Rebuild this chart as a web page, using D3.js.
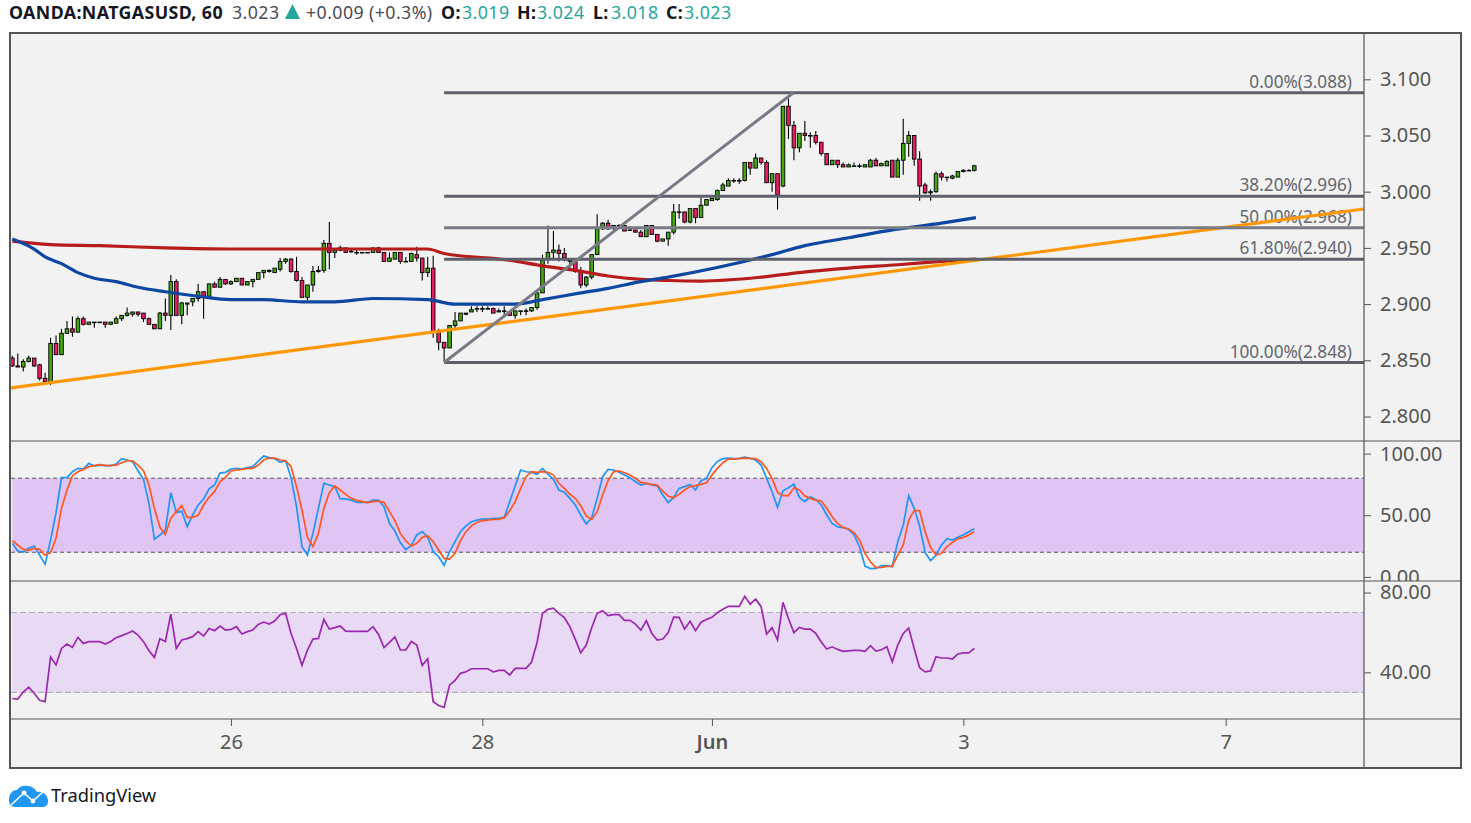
<!DOCTYPE html>
<html>
<head>
<meta charset="utf-8">
<script src="https://d3js.org/d3.v7.min.js"></script>
<style>
html, body { margin: 0; padding: 0; background: #fff; overflow: hidden; }
svg { display: block; }
text { font-family: "Noto Sans", sans-serif; }
.tick text { fill: #555; font-size: 20px; }
</style>
</head>
<body>
<script>
// one candle per hour, index 0 is the first bar on the left
var candleOpen = [
  2.852,2.845,2.844,2.849,2.852,2.846,2.834,2.831,2.865,2.855,
  2.874,2.878,2.875,2.887,2.882,2.884,2.884,2.884,2.882,2.883,
  2.887,2.890,2.891,2.893,2.892,2.887,2.882,2.878,2.892,2.890,
  2.920,2.890,2.900,2.902,2.905,2.911,2.907,2.918,2.915,2.922,
  2.918,2.920,2.923,2.917,2.920,2.922,2.928,2.929,2.928,2.931,
  2.938,2.940,2.929,2.921,2.906,2.917,2.929,2.930,2.954,2.946,
  2.948,2.950,2.947,2.946,2.946,2.946,2.946,2.950,2.946,2.938,
  2.940,2.946,2.938,2.938,2.944,2.941,2.928,2.932,2.875,2.866,
  2.861,2.881,2.885,2.892,2.893,2.896,2.896,2.896,2.896,2.894,
  2.894,2.893,2.890,2.894,2.894,2.894,2.897,2.910,2.940,2.946,
  2.948,2.945,2.939,2.938,2.929,2.917,2.924,2.944,2.967,2.972,
  2.970,2.970,2.970,2.966,2.966,2.964,2.960,2.970,2.962,2.956,
  2.958,2.964,2.982,2.982,2.973,2.985,2.977,2.988,2.992,2.993,
  3.001,3.005,3.010,3.010,3.010,3.026,3.021,3.030,3.026,3.008,
  3.016,3.005,3.076,3.059,3.039,3.052,3.050,3.050,3.044,3.034,
  3.024,3.028,3.024,3.022,3.023,3.023,3.022,3.022,3.028,3.023,
  3.023,3.028,3.013,3.028,3.043,3.050,3.029,3.006,2.999,3.000,
  3.016,3.013,3.012,3.013,3.018,3.019,3.019
];
var candleHigh = [
  2.854,2.856,2.851,2.854,2.852,2.847,2.839,2.870,2.872,2.878,
  2.885,2.889,2.889,2.889,2.884,2.884,2.884,2.884,2.884,2.889,
  2.890,2.897,2.893,2.893,2.892,2.888,2.882,2.893,2.905,2.926,
  2.922,2.902,2.901,2.905,2.918,2.911,2.918,2.920,2.924,2.922,
  2.921,2.923,2.923,2.920,2.922,2.928,2.930,2.931,2.932,2.941,
  2.941,2.941,2.942,2.924,2.917,2.934,2.934,2.957,2.973,2.948,
  2.952,2.950,2.949,2.948,2.946,2.946,2.950,2.951,2.946,2.946,
  2.946,2.946,2.942,2.946,2.951,2.941,2.942,2.943,2.878,2.866,
  2.881,2.893,2.892,2.892,2.898,2.898,2.898,2.898,2.897,2.896,
  2.898,2.893,2.894,2.894,2.896,2.897,2.910,2.944,2.970,2.965,
  2.953,2.950,2.941,2.939,2.933,2.925,2.944,2.980,2.973,2.975,
  2.970,2.971,2.970,2.969,2.966,2.966,2.970,2.970,2.962,2.958,
  2.964,2.989,2.989,2.982,2.985,2.985,2.995,2.993,2.994,3.002,
  3.008,3.012,3.012,3.012,3.026,3.026,3.034,3.030,3.028,3.016,
  3.016,3.076,3.083,3.063,3.052,3.063,3.053,3.054,3.044,3.034,
  3.028,3.028,3.026,3.025,3.026,3.025,3.024,3.029,3.030,3.026,
  3.028,3.028,3.030,3.065,3.054,3.050,3.036,3.008,3.002,3.018,
  3.018,3.013,3.015,3.018,3.020,3.020,3.024
];
var candleLow = [
  2.844,2.844,2.840,2.848,2.844,2.832,2.830,2.828,2.855,2.855,
  2.874,2.871,2.875,2.881,2.882,2.879,2.884,2.879,2.882,2.883,
  2.885,2.889,2.889,2.889,2.884,2.882,2.878,2.878,2.885,2.877,
  2.890,2.882,2.890,2.898,2.902,2.887,2.905,2.915,2.915,2.917,
  2.917,2.920,2.917,2.917,2.915,2.922,2.923,2.928,2.928,2.929,
  2.936,2.928,2.920,2.906,2.903,2.911,2.928,2.928,2.931,2.941,
  2.947,2.946,2.946,2.944,2.946,2.946,2.946,2.946,2.938,2.938,
  2.940,2.936,2.938,2.938,2.938,2.921,2.924,2.870,2.859,2.849,
  2.861,2.878,2.885,2.890,2.893,2.893,2.893,2.896,2.892,2.893,
  2.890,2.890,2.887,2.890,2.890,2.893,2.895,2.910,2.936,2.939,
  2.938,2.938,2.930,2.928,2.914,2.915,2.922,2.944,2.966,2.966,
  2.964,2.969,2.965,2.965,2.964,2.960,2.960,2.962,2.955,2.956,
  2.952,2.962,2.976,2.972,2.972,2.972,2.977,2.988,2.992,2.992,
  3.001,3.005,3.008,3.007,3.009,3.015,3.021,3.024,3.008,3.000,
  2.984,3.004,3.047,3.028,3.035,3.045,3.039,3.042,3.032,3.024,
  3.024,3.021,3.022,3.022,3.023,3.021,3.022,3.022,3.023,3.023,
  3.023,3.013,3.013,3.015,3.031,3.023,2.992,2.998,2.992,2.999,
  3.010,3.009,3.011,3.013,3.017,3.019,3.018
];
var candleClose = [
  2.845,2.844,2.849,2.852,2.845,2.834,2.831,2.865,2.855,2.874,
  2.878,2.875,2.887,2.882,2.884,2.884,2.884,2.882,2.884,2.887,
  2.890,2.892,2.893,2.891,2.887,2.882,2.878,2.892,2.890,2.920,
  2.890,2.901,2.901,2.905,2.911,2.907,2.918,2.915,2.922,2.918,
  2.920,2.923,2.917,2.920,2.922,2.928,2.930,2.930,2.932,2.938,
  2.940,2.929,2.921,2.906,2.917,2.929,2.930,2.954,2.946,2.948,
  2.950,2.946,2.947,2.946,2.946,2.946,2.950,2.946,2.938,2.941,
  2.946,2.938,2.938,2.945,2.941,2.928,2.932,2.876,2.866,2.861,
  2.881,2.885,2.892,2.891,2.895,2.896,2.896,2.896,2.892,2.893,
  2.894,2.890,2.894,2.894,2.894,2.897,2.910,2.939,2.946,2.948,
  2.945,2.941,2.938,2.929,2.917,2.924,2.944,2.967,2.972,2.967,
  2.970,2.970,2.965,2.966,2.964,2.960,2.970,2.962,2.956,2.958,
  2.964,2.982,2.982,2.973,2.985,2.977,2.988,2.993,2.994,3.001,
  3.006,3.010,3.010,3.010,3.026,3.021,3.030,3.026,3.008,3.016,
  2.997,3.076,3.059,3.039,3.052,3.050,3.050,3.044,3.034,3.024,
  3.028,3.024,3.022,3.024,3.023,3.023,3.024,3.028,3.023,3.025,
  3.027,3.013,3.028,3.043,3.050,3.029,3.005,2.999,3.000,3.016,
  3.013,3.013,3.014,3.018,3.019,3.019,3.023
];

var redIdx = [0,7,16,28,40,58,76,79,91,97,103,109,115,120,126,137,144,153,162,170,176.3];
var redVal = [2.956,2.953,2.952,2.950,2.949,2.949,2.949,2.945,2.939,2.934,2.930,2.925,2.922,2.921,2.9205,2.924,2.928,2.932,2.935,2.938,2.940];
var blueIdx = [0,4,6,9,12,15,19,23,28,34,40,46,53,59,66,76,81,92,97,104,109,115,120,139,145,153,161,170,176.3];
var blueVal = [2.958,2.949,2.942,2.936,2.928,2.923,2.920,2.915,2.911,2.907,2.904,2.904,2.902,2.902,2.905,2.904,2.900,2.900,2.904,2.910,2.914,2.920,2.924,2.944,2.952,2.959,2.966,2.972,2.977];

// drawings on the price pane
var trendIdx = [-0.4, 247.3];
var trendVal = [2.8254, 2.9846];
var fibStart = 79;
var fibEnd = 142.9;
var fibLevels = [3.088, 2.996, 2.968, 2.940, 2.848];
var fibNames = ["0.00%(3.088)", "38.20%(2.996)", "50.00%(2.968)", "61.80%(2.940)", "100.00%(2.848)"];

var stochK = [
  27.2,21,20.2,23.2,25,17.7,10.2,29.9,52.1,80.5,80.5,85.3,88,87.5,92.1,89.9,90.7,90.2,90.2,91.5,
  95.9,94.8,93.4,86.1,79.1,59.6,30.5,34,38,68.3,52.3,53.2,40.7,50.2,58.3,63.2,71.5,74.5,84.2,84.8,
  87.5,88,87.5,88.6,89.4,94,98,96.7,95.9,92.9,94.2,80.5,56.9,24.5,17.7,35.3,55.6,75.9,74.5,73.2,
  63.2,63.2,62.3,60.5,60.5,60.5,62.3,62.3,56.9,43.4,37.2,27.7,22.1,25.6,34,36.7,32.1,20.4,16.4,9.4,
  20.4,28.6,36.7,41.3,44.8,46.1,46.9,46.9,47.5,
  47.5,48.3,61,73.7,86.7,85.3,84.8,83.2,88,83.4,79.1,70.5,68.6,63.7,58.3,50.2,42.9,48,63.7,81.3,
  87.2,86.7,84.8,82.6,80.5,77.2,74.5,75.9,74.5,73.7,66.4,60.2,64.5,71.8,73.2,75,70.5,78,79.9,88.6,
  93.7,95.9,96.4,95.9,96.1,97.2,96.1,94.8,90.7,79.9,69.1,56.4,69.9,72.3,75.3,64.5,61,65,62.9,58.3,
  50.2,43.4,40.5,39.9,38.6,34,24.5,8.8,6.7,6.9,9.1,9.1,8.3,28.6,42.1,65.9,55.6,41.3,19.9,13.2,
  17.7,25.9,31,29.9,32.1,34.2,36.7,39.1
];
var stochD = [
  29.4,25.9,22.3,21.8,23.2,22.3,17.7,19.6,31.3,55.6,70.5,82.1,85.3,87.2,89.4,90.2,91,90.5,90.2,90.7,
  92.6,94.2,94.2,90.7,86.1,74.5,55.6,40.2,34.5,47.5,52.9,57.8,48.3,48.3,49.9,58.3,64.5,69.1,77.2,80.7,
  85.9,86.7,87.2,88,88,90.7,94.8,96.4,96.4,94.8,94.2,89.4,73.2,54.2,32.1,24.5,35.3,55.6,68.3,73.7,
  70.5,66.9,63.7,62.1,61,60.2,61,61.5,60.5,52.9,45.6,35.3,29.1,25,27.2,32.1,33.4,28.6,21.8,15,
  14.5,19.1,29.4,36.7,41.3,44.2,45.6,46.1,46.7,
  46.7,48,53.7,61,71.8,81.3,85.3,84.8,85.3,84.8,82.6,75.9,71.8,67.2,63.7,57.8,49.4,46.7,52.9,66.4,
  78,85.3,85.9,84.5,82.6,79.9,76.7,75.9,75,74.5,69.6,65.6,64.2,66.9,70.5,73.2,74,75,76.4,82.6,
  88,92.6,95.6,95.6,95.9,96.4,96.1,95.9,93.4,88,79.9,68.6,65.9,65.9,72.3,70.5,65.6,63.7,62.3,61.5,
  55.6,48.8,43.4,40.2,38.6,35.9,29.9,19.1,12.3,7.5,7.7,8.6,8.8,17.7,25.9,46.1,53.7,53.7,36.7,24,
  17.7,19.1,24.5,28,31,32.1,34,36.7
];
var rsiVal = [
  26.9,26.6,30.1,32.6,29.5,26,25.3,47.7,43.7,52,54.2,52.5,57.5,54.5,55.4,55.4,55.4,54.2,55.5,57.4,
  58.4,59.5,60.7,58.7,55.4,50.8,47.5,56.9,55.5,69.2,52,56.2,56.9,57.9,60.4,58.2,62,60.9,63.2,61.2,
  61.5,62.9,59.2,60.4,61.2,64,65.2,64.2,65.7,68.9,69.6,59.5,52,43.5,51.2,56.7,57,66.5,61.7,62.4,
  63.2,60.7,60.5,60.5,60.5,60.5,62.9,59,52.4,55,57.7,51.2,51.2,55.5,53.7,43.5,46.8,25.3,23.4,22.4,
  33.6,36,39.5,40.3,41.8,41.8,41.8,41.8,40.2,
  41,41,38.6,42,42,42,45.2,54.9,69.6,71.6,72.2,69.6,67.4,62.9,56.5,49.8,53.7,62.4,69.6,70.9,
  68.4,68.9,68.9,66.1,66.1,64.2,61.2,65.9,59.5,56.2,56.7,59.9,67.7,67.6,61.7,65.6,60.9,65.1,66.5,67.6,
  69.9,71.6,73.1,73.1,73.1,78.1,74.2,76.7,72.9,59.2,62.4,56.2,75.1,67,59.9,62.5,61.7,61.7,59.5,55.2,
  51.7,52.8,51.5,50.5,50.8,51,51,50.5,53.4,50.7,51.3,52.8,45.3,53.7,59.5,62.2,52,42.3,40.2,40.7,
  47.8,47.2,47.2,46.7,49.2,49.8,49.8,52
];

var priceTicks = [2.8, 2.85, 2.9, 2.95, 3.0, 3.05, 3.1];
var stochTicks = [0, 50, 100];
var stochBand = [20, 80];
var rsiTicks = [40, 80];
var rsiBand = [30, 70];
var dateIdx = [40, 86, 128, 174, 222];
var dateNames = ["26", "28", "Jun", "3", "7"];

var width = 1471, height = 823;
var paneL = 11, paneR = 1364;

var svg = d3.select("body").append("svg")
    .attr("width", width)
    .attr("height", height);

svg.append("rect").attr("x", 10).attr("y", 33).attr("width", 1451).attr("height", 735)
    .attr("fill", "#f2f2f2");

var defs = svg.append("defs");
defs.append("clipPath").attr("id", "priceClip").append("rect")
    .attr("x", paneL).attr("y", 34).attr("width", paneR - paneL).attr("height", 407);
defs.append("clipPath").attr("id", "stochClip").append("rect")
    .attr("x", paneL).attr("y", 442).attr("width", paneR - paneL).attr("height", 139);
defs.append("clipPath").attr("id", "rsiClip").append("rect")
    .attr("x", paneL).attr("y", 582).attr("width", paneR - paneL).attr("height", 137);
// the 0.00 label gets cut by the divider, same as on the original
defs.append("clipPath").attr("id", "stochAxisClip").append("rect")
    .attr("x", paneR).attr("y", 442).attr("width", 100).attr("height", 139);

// scales
var x = d3.scaleLinear().domain([-0.24, 247.3]).range([paneL, paneR]);
var yPrice = d3.scaleLinear().domain([2.8, 3.1]).range([416.5, 79.3]);
var yStoch = d3.scaleLinear().domain([0, 100]).range([576.9, 453.6]);
var yRsi = d3.scaleLinear().domain([30, 70]).range([692.3, 612.5]);

// price pane
var price = svg.append("g").attr("clip-path", "url(#priceClip)");

// fib labels sit under everything else
price.selectAll(".fibLabel").data(fibLevels).enter().append("text")
    .attr("class", "fibLabel")
    .attr("x", paneR - 12)
    .attr("y", function(d) { return yPrice(d) - 5; })
    .attr("text-anchor", "end")
    .attr("fill", "#63666f")
    .style("font-size", "17.2px")
    .text(function(d, i) { return fibNames[i]; });

var idx = d3.range(candleOpen.length);
var greenCol = "#43a80f", redCol = "#e91e63";

var candles = price.append("g");
candles.selectAll("line").data(idx).enter().append("line")
    .attr("x1", function(i) { return x(i); })
    .attr("x2", function(i) { return x(i); })
    .attr("y1", function(i) { return yPrice(candleHigh[i]); })
    .attr("y2", function(i) { return yPrice(candleLow[i]); })
    .attr("stroke", "#000")
    .attr("stroke-width", 1.1);
candles.selectAll("rect").data(idx).enter().append("rect")
    .attr("x", function(i) { return x(i) - 1.8; })
    .attr("width", 3.6)
    .attr("y", function(i) { return yPrice(Math.max(candleOpen[i], candleClose[i])); })
    .attr("height", function(i) { return Math.max(0.6, Math.abs(yPrice(candleOpen[i]) - yPrice(candleClose[i]))); })
    .attr("fill", function(i) { return candleClose[i] >= candleOpen[i] ? greenCol : redCol; })
    .attr("stroke", "#000")
    .attr("stroke-width", 0.9);

function series(xs, ys, yScale, curve) {
    return d3.line()
        .curve(curve || d3.curveLinear)
        .x(function(d) { return x(xs ? xs[d] : d); })
        .y(function(d) { return yScale(ys[d]); })(d3.range(ys.length));
}

price.append("path").attr("d", series(redIdx, redVal, yPrice, d3.curveMonotoneX))
    .attr("fill", "none").attr("stroke", "#b71c1c").attr("stroke-width", 3.2);
price.append("path").attr("d", series(blueIdx, blueVal, yPrice, d3.curveMonotoneX))
    .attr("fill", "none").attr("stroke", "#0d47a1").attr("stroke-width", 3.2);
price.append("path").attr("d", series(trendIdx, trendVal, yPrice))
    .attr("fill", "none").attr("stroke", "#ff9800").attr("stroke-width", 3.2);

price.selectAll(".fibLine").data(fibLevels).enter().append("line")
    .attr("class", "fibLine")
    .attr("x1", x(fibStart)).attr("x2", paneR)
    .attr("y1", function(d) { return yPrice(d); })
    .attr("y2", function(d) { return yPrice(d); })
    .attr("stroke", function(d) { return d == 2.968 ? "#787b86" : "#5d606b"; })
    .attr("stroke-width", 3);
price.append("line")
    .attr("x1", x(fibStart)).attr("y1", yPrice(2.848))
    .attr("x2", x(fibEnd)).attr("y2", yPrice(3.088))
    .attr("stroke", "#787b86").attr("stroke-width", 3);

// stochastic pane
var stoch = svg.append("g").attr("clip-path", "url(#stochClip)");
stoch.append("rect")
    .attr("x", x(0)).attr("width", paneR - x(0))
    .attr("y", yStoch(stochBand[1])).attr("height", yStoch(stochBand[0]) - yStoch(stochBand[1]))
    .attr("fill", "#e0c4f3");
stoch.selectAll("line").data(stochBand).enter().append("line")
    .attr("x1", paneL).attr("x2", paneR)
    .attr("y1", function(d) { return yStoch(d); })
    .attr("y2", function(d) { return yStoch(d); })
    .attr("stroke", "#5d5560").attr("stroke-width", 1.2).attr("stroke-dasharray", "4 3");
stoch.append("path").attr("d", series(null, stochK, yStoch))
    .attr("fill", "none").attr("stroke", "#2196f3").attr("stroke-width", 1.7);
stoch.append("path").attr("d", series(null, stochD, yStoch))
    .attr("fill", "none").attr("stroke", "#ff5722").attr("stroke-width", 1.7);

// rsi pane
var rsi = svg.append("g").attr("clip-path", "url(#rsiClip)");
rsi.append("rect")
    .attr("x", x(0)).attr("width", paneR - x(0))
    .attr("y", yRsi(rsiBand[1])).attr("height", yRsi(rsiBand[0]) - yRsi(rsiBand[1]))
    .attr("fill", "#e8d9f4");
rsi.selectAll("line").data(rsiBand).enter().append("line")
    .attr("x1", paneL).attr("x2", paneR)
    .attr("y1", function(d) { return yRsi(d); })
    .attr("y2", function(d) { return yRsi(d); })
    .attr("stroke", "#b5aebb").attr("stroke-width", 1.2).attr("stroke-dasharray", "6 3");
rsi.append("path").attr("d", series(null, rsiVal, yRsi))
    .attr("fill", "none").attr("stroke", "#9c27b0").attr("stroke-width", 1.7);

// axes
function styleAxis(g) {
    g.select(".domain").remove();
    g.selectAll(".tick line").attr("stroke", "#555").attr("stroke-width", 1);
    g.selectAll(".tick text").style("font-size", "20px").attr("fill", "#555");
}
function rightAxis(scale, ticks, fmt) {
    return svg.append("g")
        .attr("transform", "translate(" + paneR + ",0)")
        .call(d3.axisRight(scale).tickValues(ticks).tickFormat(d3.format(fmt)).tickSize(7).tickPadding(9))
        .call(styleAxis);
}
rightAxis(yPrice, priceTicks, ".3f");
svg.append("g").attr("clip-path", "url(#stochAxisClip)").append("g")
    .attr("transform", "translate(" + paneR + ",0)")
    .call(d3.axisRight(yStoch).tickValues(stochTicks).tickFormat(d3.format(".2f")).tickSize(7).tickPadding(9))
    .call(styleAxis);
rightAxis(yRsi, rsiTicks, ".2f");

svg.append("g")
    .attr("transform", "translate(0,719)")
    .call(d3.axisBottom(x).tickValues(dateIdx)
        .tickFormat(function(d, i) { return dateNames[i]; }).tickSize(7).tickPadding(9))
    .call(styleAxis)
    .selectAll(".tick text")
    .style("font-weight", function(d, i) { return dateNames[i] == "Jun" ? 600 : 400; });

// frame and pane dividers
[441, 581, 719].forEach(function(yy) {
    svg.append("line").attr("x1", 10).attr("x2", 1461).attr("y1", yy).attr("y2", yy)
        .attr("stroke", "#555").attr("stroke-width", 1.2);
});
svg.append("line").attr("x1", paneR).attr("x2", paneR).attr("y1", 33).attr("y2", 768)
    .attr("stroke", "#555").attr("stroke-width", 1.2);
svg.append("rect").attr("x", 10).attr("y", 33).attr("width", 1451).attr("height", 735)
    .attr("fill", "none").attr("stroke", "#555").attr("stroke-width", 2);

// header line
var teal = "#26a69a", ink = "#131722", grey = "#4a4e57";
var header = [
    ["OANDA:NATGASUSD, 60", 9, ink, 700],
    ["3.023", 232, grey, 400],
    ["+0.009 (+0.3%)", 306, grey, 400],
    ["O:", 441, ink, 700],
    ["3.019", 462, teal, 400],
    ["H:", 517, ink, 700],
    ["3.024", 537, teal, 400],
    ["L:", 593, ink, 700],
    ["3.018", 611, teal, 400],
    ["C:", 666, ink, 700],
    ["3.023", 684, teal, 400]
];
svg.selectAll(".hdr").data(header).enter().append("text")
    .attr("class", "hdr")
    .attr("x", function(d) { return d[1]; })
    .attr("y", 19.2)
    .attr("fill", function(d) { return d[2]; })
    .style("font-weight", function(d) { return d[3]; })
    .style("font-size", "17.8px")
    .style("letter-spacing", "0.4px")
    .text(function(d) { return d[0]; });
svg.append("path").attr("d", "M285,19 L292.5,4 L300,19 Z").attr("fill", teal);

// logo
svg.append("path")
    .attr("d", "M9,800 C9,793 13,790 17,790 C19,786 24,785 28,786 C32,786 35,789 37,792 C43,791 48,795 48,801 C48,805 46,807 42,807 L15,807 C11,807 9,804 9,800 Z")
    .attr("fill", "#2196f3");
svg.append("path")
    .attr("d", "M11,805 L24,793 L33,801 L44,791")
    .attr("fill", "none").attr("stroke", "#fff").attr("stroke-width", 1.5);
svg.append("circle").attr("cx", 24).attr("cy", 793).attr("r", 2.4).attr("fill", "#fff");
svg.append("circle").attr("cx", 33).attr("cy", 801).attr("r", 2.4).attr("fill", "#fff");
svg.append("text").attr("x", 51).attr("y", 802)
    .attr("fill", ink).style("font-size", "18.3px").text("TradingView");
</script>
</body>
</html>
